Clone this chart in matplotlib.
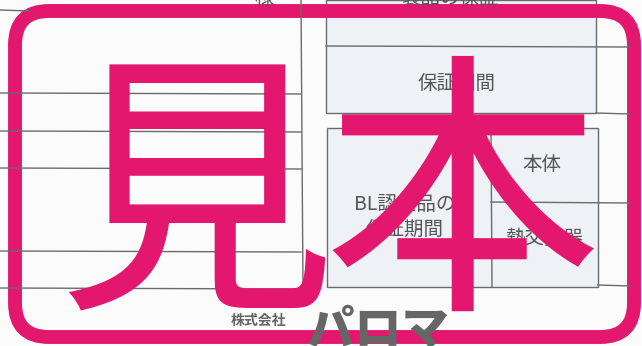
import matplotlib.pyplot as plt
from matplotlib.patches import FancyBboxPatch, Rectangle

plt.rcParams['font.family'] = ['Noto Sans CJK JP', 'DejaVu Sans']

W, H = 642, 346
pink = "#E4176F"
line_c = "#6b6b6b"
shade = "#eef1f5"

# stamp text
stamp_chars = ["見", "本"]
stamp_x = [196, 462]

# table labels
labels = ["保証期間", "本体", "BL認定品の\n保証期間", "熱交換器", "製品の保証", "様"]
label_x = [457, 542, 405, 544, 450, 264]
label_y = [83, 165, 217, 238, -2, -2]

fig = plt.figure(figsize=(W / 100, H / 100), dpi=100)
ax = fig.add_axes([0, 0, 1, 1])
ax.set_xlim(0, W)
ax.set_ylim(H, 0)
ax.axis("off")
fig.patch.set_facecolor("#fbfbfb")

# shaded cells
ax.add_patch(Rectangle((326, 0), 270, 113, facecolor=shade, edgecolor=line_c, lw=1))
ax.add_patch(Rectangle((327, 128), 271, 159, facecolor=shade, edgecolor=line_c, lw=1))

# table lines
hl = [(0, 30, 10), (0, 301, 93), (0, 301, 131), (0, 301, 168), (0, 301, 251), (0, 301, 288),
      (326, 630, 46), (596, 630, 113), (491, 630, 202), (598, 630, 285)]
for x0, x1, y in hl:
    ax.plot([x0, x1], [y, y + 1], color=line_c, lw=1)
ax.plot([301, 303], [0, 290], color=line_c, lw=1)
ax.plot([491, 492], [128, 287], color=line_c, lw=1)

for t, x, y in zip(labels, label_x, label_y):
    ax.text(x, y, t, ha="center", va="center", fontsize=14, color="#555555", linespacing=1.25)

# maker name
ax.text(258, 321, "株式会社", ha="center", va="center", fontsize=10, fontweight="bold", color="#666666")
ax.text(378, 330, "パロマ", ha="center", va="center", fontsize=34, fontweight="black", color="#666666")

# stamp frame
ax.add_patch(FancyBboxPatch((15, 11), 619, 326, boxstyle="round,pad=0,rounding_size=34",
                            facecolor="none", edgecolor=pink, lw=10))
for ch, x in zip(stamp_chars, stamp_x):
    ax.text(x, 210, ch, ha="center", va="center", fontsize=200, color=pink)

fig.savefig("out.png", dpi=100, facecolor=fig.get_facecolor())
